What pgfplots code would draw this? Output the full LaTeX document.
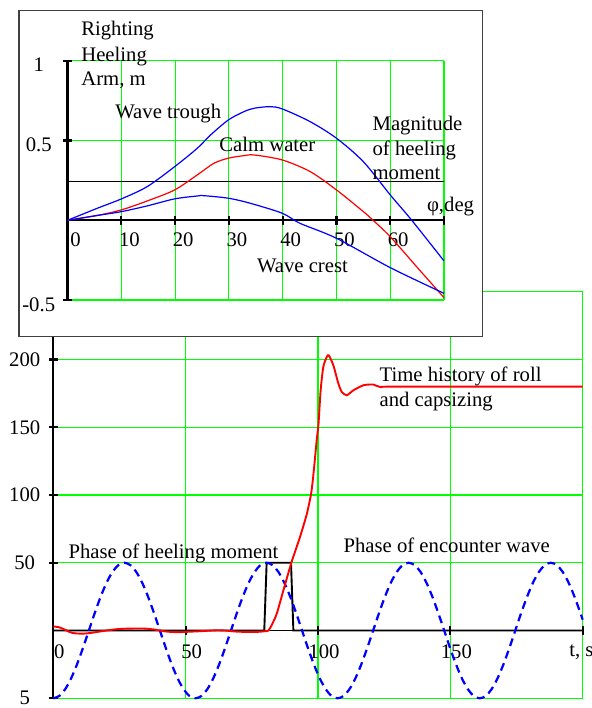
\documentclass[border=0pt]{standalone}
\usepackage{fontspec}
\setmainfont{Liberation Serif}
\usepackage{pgfplots}
\pgfplotsset{compat=1.18}
\definecolor{gridgreen}{rgb}{0,1,0}
\definecolor{pblue}{rgb}{0,0,1}
\definecolor{pred}{rgb}{1,0,0}
\begin{document}
\fontsize{12}{14}\selectfont
\begin{tikzpicture}[font=\fontsize{12}{14}\selectfont]
\useasboundingbox (0pt,0pt) rectangle (343.36pt,-410.64pt);
% ---------------- main axis: time history ----------------
\begin{axis}[
  at={(30.914pt,-405.014pt)}, anchor=south west,
  scale only axis, width=307.052pt, height=235.828pt,
  xmin=0, xmax=200, ymin=-50, ymax=250,
  enlargelimits=false, clip=false,
  axis lines=middle, axis line style={-, black, line width=1.1pt},
  hide obscured x ticks=false, hide obscured y ticks=false,
  xtick={0,50,100,150,200}, xticklabels={0,50,100,150,{}},
  ytick={-50,50,100,150,200,250}, yticklabels={5,50,100,150,200,{}},
  grid=major, grid style={gridgreen, line width=0.6pt},
  major tick length=5pt, tick align=center,
  tick style={black, line width=1.2pt},
  xticklabel style={anchor=center, xshift=3.5pt, yshift=-9.9pt},
  yticklabel style={anchor=center, xshift=-14.1pt},
]
\addplot[black, line width=1.1pt] coordinates {(0,0)(79.7,0)(80.6,50)(89.8,50)(90.7,0)(200,0)};
\addplot[pblue, line width=1.3pt, dash pattern=on 4.6pt off 3pt, smooth] coordinates {
(0,-50)(2.24,-48.30)(4.48,-43.30)(6.71,-35.36)(8.95,-25)(11.19,-12.94)(13.43,0)(15.66,12.94)(17.90,25)(20.14,35.36)(22.38,43.30)(24.61,48.30)
(26.85,50)(29.09,48.30)(31.33,43.30)(33.56,35.36)(35.80,25)(38.04,12.94)(40.28,0)(42.51,-12.94)(44.75,-25)(46.99,-35.36)(49.23,-43.30)(51.46,-48.30)
(53.70,-50)(55.94,-48.30)(58.18,-43.30)(60.41,-35.36)(62.65,-25)(64.89,-12.94)(67.13,0)(69.36,12.94)(71.60,25)(73.84,35.36)(76.08,43.30)(78.31,48.30)
(80.55,50)(82.79,48.30)(85.03,43.30)(87.26,35.36)(89.50,25)(91.74,12.94)(93.98,0)(96.21,-12.94)(98.45,-25)(100.69,-35.36)(102.93,-43.30)(105.16,-48.30)
(107.40,-50)(109.64,-48.30)(111.88,-43.30)(114.11,-35.36)(116.35,-25)(118.59,-12.94)(120.83,0)(123.06,12.94)(125.30,25)(127.54,35.36)(129.78,43.30)(132.01,48.30)
(134.25,50)(136.49,48.30)(138.73,43.30)(140.96,35.36)(143.20,25)(145.44,12.94)(147.68,0)(149.91,-12.94)(152.15,-25)(154.39,-35.36)(156.63,-43.30)(158.86,-48.30)
(161.10,-50)(163.34,-48.30)(165.58,-43.30)(167.81,-35.36)(170.05,-25)(172.29,-12.94)(174.53,0)(176.76,12.94)(179.00,25)(181.24,35.36)(183.48,43.30)(185.71,48.30)
(187.95,50)(190.19,48.30)(192.43,43.30)(194.66,35.36)(196.90,25)(199.14,12.94)(200,8.0)};
\addplot[pred, line width=1.1pt, smooth, tension=0.4] coordinates {
(0,3)(2,2.5)(4,1)(6,-1)(8,-2)(11,-2.3)(14,-1.8)(17.6,-0.7)(20,0)(24,1)(28,1.4)(34,1.5)(38,0.8)(40.3,0)(43,-0.8)(46.6,-1.2)(50,-1)(55.4,-0.5)(61.8,0.2)(65,0)(69.3,-0.8)(73,-1)(77,-1)(80,-0.5)(81.3,0)
(82.5,4)(84.4,12.3)(86.9,29.5)(90,50.4)(93.2,69)(95.8,86.2)(97.4,101)(98.3,115.7)(99.5,140.3)(100.2,152.7)(101,177.3)(102,194.5)(103.3,201.8)(104.1,203)(105.8,195.7)(107.7,182.2)(109,176)(110.9,173.6)(113.4,177.3)(117.2,181)(120.9,181.5)(123.5,179.7)(130,180)(200,180)};
\end{axis}
% ---------------- inset box ----------------
\draw[black!75, line width=0.7pt, fill=white] (11.02pt,-5.974pt) rectangle (279.734pt,-195.286pt);
% ---------------- inset axis: righting arm ----------------
\begin{axis}[
  at={(39.266pt,-174pt)}, anchor=south west,
  scale only axis, width=218.254pt, height=138.794pt,
  xmin=0, xmax=70, ymin=-0.5, ymax=1,
  enlargelimits=false, clip=false,
  axis lines=middle, axis line style={-, black, line width=1.4pt},
  hide obscured x ticks=false, hide obscured y ticks=false,
  xtick={0,10,20,30,40,50,60,70}, xticklabels={0,10,20,30,40,50,60,{}},
  ytick={-0.5,0.5,1}, yticklabels={-0.5,0.5,1},
  grid=major, grid style={gridgreen, line width=0.6pt},
  major tick length=5pt, tick align=center,
  tick style={black, line width=1.2pt},
  xticklabel style={anchor=center, xshift=4.6pt, yshift=-9pt},
  yticklabel style={anchor=center, xshift=-14.3pt, yshift=-2.5pt},
]
\addplot[black, line width=0.6pt] coordinates {(0,0.242)(70,0.242)};
\addplot[pblue, line width=0.7pt, smooth] coordinates {
(0,0)(5.5,0.075)(10,0.134)(14.8,0.211)(19.9,0.336)(24.1,0.451)(26.6,0.535)(29.9,0.629)(32.8,0.681)(34.7,0.702)(37.6,0.712)(39.9,0.698)(45.1,0.618)(50,0.514)(55,0.367)(60,0.159)(64,0)(70,-0.255)};
\addplot[pred, line width=0.7pt, smooth] coordinates {
(0,0)(5.5,0.03)(10,0.065)(14.8,0.121)(19.9,0.19)(24.1,0.284)(27.2,0.357)(29.9,0.389)(32.8,0.405)(34.7,0.409)(39.9,0.378)(45.1,0.305)(50,0.19)(55,0.054)(56.8,0)(60,-0.103)(64.9,-0.291)(70,-0.485)};
\addplot[pblue, line width=0.7pt, smooth] coordinates {
(0,0)(5.5,0.03)(10,0.054)(14.8,0.09)(19.9,0.134)(24.1,0.152)(25.3,0.154)(29.9,0.138)(33.9,0.107)(39.9,0.044)(43.2,-0.019)(50,-0.113)(60,-0.297)(70,-0.458)};
\end{axis}
% ---------------- text labels ----------------
\begin{scope}[x=0.58pt, y=-0.58pt, every node/.style={inner sep=0pt, anchor=base west}]
\node at (379.3,381) {Time history of roll};
\node at (379.3,406) {and capsizing};
\node at (68.3,558.3) {Phase of heeling moment};
\node at (343.3,552.3) {Phase of encounter wave};
\node at (569,656) {t, s};
\node at (81,35.7) {Righting};
\node at (81,61) {Heeling};
\node at (81,85) {Arm, m};
\node at (115,118.3) {Wave trough};
\node at (219,151.7) {Calm water};
\node at (372.3,130) {Magnitude};
\node at (372.3,155) {of heeling};
\node at (372.3,179.3) {moment};
\node at (426.7,211) {φ,deg};
\node at (256.7,272.7) {Wave crest};
\end{scope}
\end{tikzpicture}
\end{document}
